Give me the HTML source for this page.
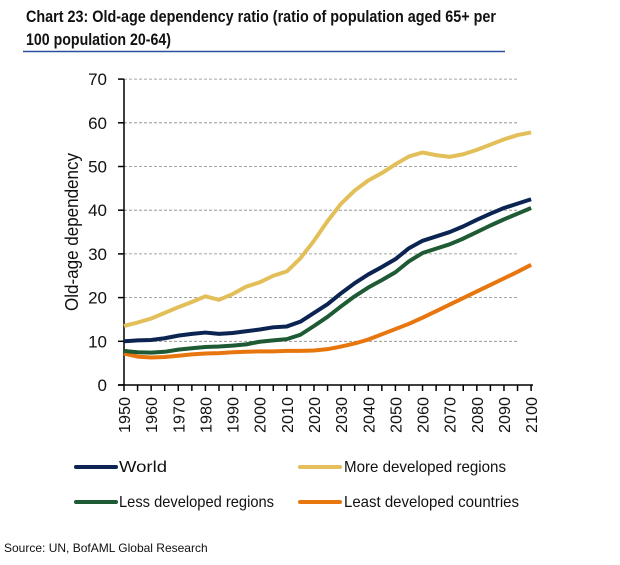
<!DOCTYPE html>
<html><head><meta charset="utf-8"><style>
body{margin:0;background:#fff;width:620px;height:560px;overflow:hidden;font-family:"Liberation Sans",sans-serif}
</style></head><body>
<svg width="620" height="560" xmlns="http://www.w3.org/2000/svg" font-family="Liberation Sans, sans-serif">
<text x="26" y="22" font-size="16.5" font-weight="bold" fill="#111" textLength="470" lengthAdjust="spacingAndGlyphs">Chart 23: Old-age dependency ratio (ratio of population aged 65+ per</text>
<text x="26" y="45" font-size="16.5" font-weight="bold" fill="#111" textLength="145" lengthAdjust="spacingAndGlyphs">100 population 20-64)</text>
<line x1="23" y1="51.5" x2="505" y2="51.5" stroke="#2a4f9c" stroke-width="1.5"/>
<g id="grid"></g>
<text transform="translate(78,232) rotate(-90)" font-size="18" text-anchor="middle" fill="#111" textLength="158" lengthAdjust="spacingAndGlyphs">Old-age dependency</text>
<g id="series"></g>
<g font-size="16" fill="#111">
<line x1="76" y1="467" x2="116" y2="467" stroke="#0b2452" stroke-width="4" stroke-linecap="round"/>
<text x="119" y="472" textLength="48" lengthAdjust="spacingAndGlyphs">World</text>
<line x1="300" y1="467" x2="340" y2="467" stroke="#e3bf5a" stroke-width="4" stroke-linecap="round"/>
<text x="344" y="472" textLength="162" lengthAdjust="spacingAndGlyphs">More developed regions</text>
<line x1="76" y1="502" x2="116" y2="502" stroke="#1e5a33" stroke-width="4" stroke-linecap="round"/>
<text x="119" y="507" textLength="155" lengthAdjust="spacingAndGlyphs">Less developed regions</text>
<line x1="300" y1="502" x2="340" y2="502" stroke="#e8760f" stroke-width="4" stroke-linecap="round"/>
<text x="344" y="507" textLength="175" lengthAdjust="spacingAndGlyphs">Least developed countries</text>
</g>
<text x="4" y="552" font-size="12" fill="#111">Source: UN, BofAML Global Research</text>
</svg>
<script>
const X=y=>124+(y-1950)/5*13.57, Y=v=>385-v*4.37;
let g=document.getElementById('grid'),h='';
for(let v=0;v<=70;v+=10){
 if(v>0)h+=`<line x1="124" y1="${Y(v)}" x2="518" y2="${Y(v)}" stroke="#888" stroke-width="0.8" stroke-dasharray="3,2"/>`;
 h+=`<line x1="118" y1="${Y(v)}" x2="124" y2="${Y(v)}" stroke="#000" stroke-width="1.5"/>`;
 h+=`<text x="107" y="${Y(v)+6}" font-size="17" text-anchor="end" fill="#111">${v}</text>`;
}
h+=`<line x1="124" y1="${Y(70)}" x2="124" y2="385" stroke="#000" stroke-width="1.5"/>`;
h+=`<line x1="118" y1="385" x2="533" y2="385" stroke="#000" stroke-width="1.5"/>`;
for(let y=1950;y<=2100;y+=5){h+=`<line x1="${X(y)}" y1="385" x2="${X(y)}" y2="391" stroke="#000" stroke-width="1.5"/>`;
 if(y%10==0)h+=`<text transform="translate(${X(y)+6},${397}) rotate(-90)" font-size="16" text-anchor="end" fill="#111" textLength="36" lengthAdjust="spacingAndGlyphs">${y}</text>`;}
g.innerHTML=h;
const D={
"#e3bf5a":[13.5,14.3,15.2,16.5,17.8,19,20.3,19.5,20.8,22.5,23.5,25,26,29,33,37.5,41.5,44.5,46.8,48.5,50.5,52.3,53.2,52.6,52.2,52.8,53.8,55,56.2,57.2,57.8],
"#e8760f":[7.2,6.5,6.3,6.4,6.7,7,7.2,7.3,7.5,7.6,7.7,7.7,7.8,7.8,7.9,8.2,8.8,9.5,10.4,11.6,12.8,14,15.4,16.9,18.4,19.9,21.4,22.9,24.4,25.9,27.5],
"#1e5a33":[7.8,7.5,7.4,7.6,8.1,8.4,8.7,8.8,9,9.3,9.9,10.2,10.5,11.5,13.5,15.6,18,20.3,22.3,24,25.8,28.3,30.2,31.2,32.2,33.5,35,36.5,37.9,39.2,40.5],
"#0b2452":[10,10.2,10.3,10.7,11.3,11.7,12,11.7,11.9,12.3,12.7,13.2,13.4,14.5,16.5,18.5,21,23.3,25.3,27,28.8,31.3,33,34,35,36.3,37.8,39.2,40.5,41.5,42.5]};
let s='';
for(const c in D){s+=`<polyline fill="none" stroke="${c}" stroke-width="4" stroke-linejoin="round" points="${D[c].map((v,i)=>X(1950+5*i)+','+Y(v)).join(' ')}"/>`;}
document.getElementById('series').innerHTML=s;
</script>
</body></html>
